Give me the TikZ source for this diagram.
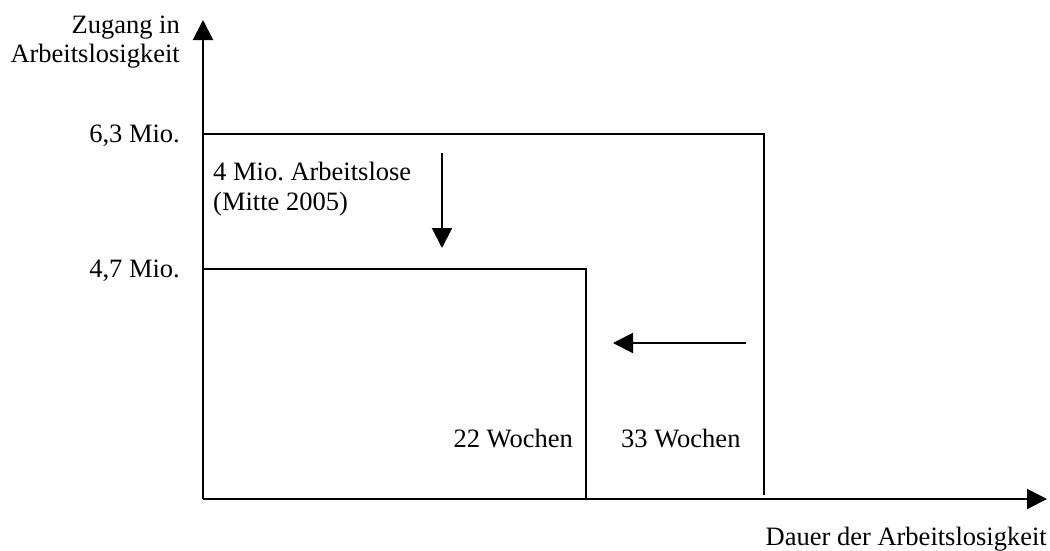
\documentclass[tikz,border=0pt]{standalone}
\usepackage{fontspec}
\setmainfont{Liberation Serif}
\usetikzlibrary{arrows.meta}
\frenchspacing
\begin{document}
\begin{tikzpicture}[x=1pt,y=-1pt,
  lbl/.style={inner sep=0pt,font=\fontsize{26.5}{30}\selectfont},
  line/.style={line width=2pt},
  arr/.style={line width=2pt,-{Triangle[length=20pt,width=20pt]}}]
\useasboundingbox (0,0) rectangle (1050,550);
% axes
\coordinate (O) at (203,499);
\coordinate (ytop) at (203,20);
\coordinate (xend) at (1047,499);
\draw[arr] (O) -- (ytop);
\draw[arr] (O) -- (xend);
% upper step
\coordinate (u1) at (203,134);
\coordinate (u2) at (764,134);
\coordinate (u3) at (764,495);
\draw[line] (u1) -- (u2) -- (u3);
% lower step
\coordinate (l1) at (203,269);
\coordinate (l2) at (586,269);
\coordinate (l3) at (586,499);
\draw[line] (l1) -- (l2) -- (l3);
% arrows
\coordinate (da1) at (442,153);
\coordinate (da2) at (442,248);
\draw[arr] (da1) -- (da2);
\coordinate (la1) at (746,343);
\coordinate (la2) at (613,343);
\draw[arr] (la1) -- (la2);
% labels
\node[lbl,anchor=base east] (yl1) at (180,33) {Zugang in};
\node[lbl,anchor=base east] (yl2) at (180,62) {Arbeitslosigkeit};
\node[lbl,anchor=base east] (v63) at (180,142) {6,3 Mio.};
\node[lbl,anchor=base east] (v47) at (180,277) {4,7 Mio.};
\node[lbl,anchor=base west] (t1) at (213,180) {4 Mio. Arbeitslose};
\node[lbl,anchor=base west] (t2) at (213,210) {(Mitte 2005)};
\node[lbl,anchor=base east] (w22) at (573,447) {22 Wochen};
\node[lbl,anchor=base west] (w33) at (621,447) {33 Wochen};
\node[lbl,anchor=base east] (xl) at (1047,545) {Dauer der Arbeitslosigkeit};
\end{tikzpicture}
\end{document}
